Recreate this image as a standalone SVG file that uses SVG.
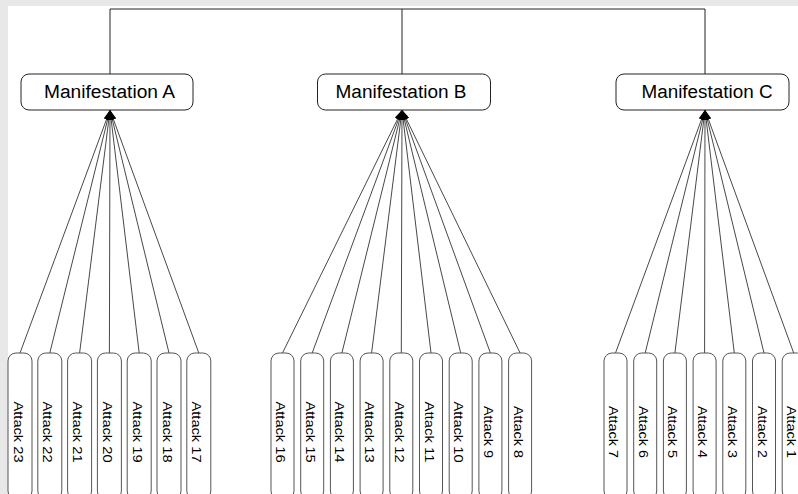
<svg xmlns="http://www.w3.org/2000/svg" width="798" height="494" viewBox="0 0 798 494">
<style>
.mbox{fill:#fff;stroke:#222;stroke-width:1}
.abox{fill:#fff;stroke:#555;stroke-width:1}
.mtxt{font-family:"Liberation Sans",Arial,sans-serif;font-size:18px;fill:#000;text-anchor:middle}
.atxt{font-family:"Liberation Sans",Arial,sans-serif;font-size:12px;fill:#000;text-anchor:middle}
.edge{stroke:#222;stroke-width:1;fill:none}
.fan{stroke:#333;stroke-width:0.9;fill:none;marker-end:url(#arr)}
</style>
<defs>
<marker id="arr" viewBox="0 0 10 6" refX="10" refY="3" markerWidth="10" markerHeight="6" markerUnits="userSpaceOnUse" orient="auto">
<path d="M0,0 L10,3 L0,6 Z" fill="#000"/>
</marker>
</defs>
<rect x="0" y="0" width="798" height="494" fill="#e8e8e8"/>
<rect x="8" y="6" width="790" height="488" fill="#fff"/>
<g id="connectors">
<path class="edge" d="M110,74 V9 H705 V74 M402,9 V74"/>
<line class="fan" x1="20" y1="353" x2="110" y2="110"/>
<line class="fan" x1="49.8" y1="353" x2="110" y2="110"/>
<line class="fan" x1="79.6" y1="353" x2="110" y2="110"/>
<line class="fan" x1="109.4" y1="353" x2="110" y2="110"/>
<line class="fan" x1="139.2" y1="353" x2="110" y2="110"/>
<line class="fan" x1="169" y1="353" x2="110" y2="110"/>
<line class="fan" x1="198.8" y1="353" x2="110" y2="110"/>
<line class="fan" x1="282.5" y1="353" x2="402" y2="110"/>
<line class="fan" x1="312.2" y1="353" x2="402" y2="110"/>
<line class="fan" x1="341.9" y1="353" x2="402" y2="110"/>
<line class="fan" x1="371.6" y1="353" x2="402" y2="110"/>
<line class="fan" x1="401.3" y1="353" x2="402" y2="110"/>
<line class="fan" x1="431" y1="353" x2="402" y2="110"/>
<line class="fan" x1="460.7" y1="353" x2="402" y2="110"/>
<line class="fan" x1="490.4" y1="353" x2="402" y2="110"/>
<line class="fan" x1="520.1" y1="353" x2="402" y2="110"/>
<line class="fan" x1="615.5" y1="353" x2="705" y2="110"/>
<line class="fan" x1="645.2" y1="353" x2="705" y2="110"/>
<line class="fan" x1="674.9" y1="353" x2="705" y2="110"/>
<line class="fan" x1="704.6" y1="353" x2="705" y2="110"/>
<line class="fan" x1="734.3" y1="353" x2="705" y2="110"/>
<line class="fan" x1="764" y1="353" x2="705" y2="110"/>
<line class="fan" x1="793.7" y1="353" x2="705" y2="110"/>
</g>
<g id="manA"><rect class="mbox" x="21" y="74" width="172" height="36" rx="8"/><text class="mtxt" x="109.5" y="98" textLength="131" lengthAdjust="spacingAndGlyphs">Manifestation A</text></g>
<g id="manB"><rect class="mbox" x="317.5" y="74" width="173" height="36" rx="8"/><text class="mtxt" x="401" y="98" textLength="131" lengthAdjust="spacingAndGlyphs">Manifestation B</text></g>
<g id="manC"><rect class="mbox" x="616" y="74" width="173" height="36" rx="8"/><text class="mtxt" x="707" y="98" textLength="131" lengthAdjust="spacingAndGlyphs">Manifestation C</text></g>

<g id="a23"><rect class="abox" x="8" y="353" width="24" height="146" rx="8"/><text class="atxt" transform="translate(13.5,432) rotate(90)" textLength="61" lengthAdjust="spacingAndGlyphs">Attack 23</text></g>
<g id="a22"><rect class="abox" x="37.8" y="353" width="24" height="146" rx="8"/><text class="atxt" transform="translate(43.3,432) rotate(90)" textLength="61" lengthAdjust="spacingAndGlyphs">Attack 22</text></g>
<g id="a21"><rect class="abox" x="67.6" y="353" width="24" height="146" rx="8"/><text class="atxt" transform="translate(73.1,432) rotate(90)" textLength="61" lengthAdjust="spacingAndGlyphs">Attack 21</text></g>
<g id="a20"><rect class="abox" x="97.4" y="353" width="24" height="146" rx="8"/><text class="atxt" transform="translate(102.9,432) rotate(90)" textLength="61" lengthAdjust="spacingAndGlyphs">Attack 20</text></g>
<g id="a19"><rect class="abox" x="127.2" y="353" width="24" height="146" rx="8"/><text class="atxt" transform="translate(132.7,432) rotate(90)" textLength="61" lengthAdjust="spacingAndGlyphs">Attack 19</text></g>
<g id="a18"><rect class="abox" x="157" y="353" width="24" height="146" rx="8"/><text class="atxt" transform="translate(162.5,432) rotate(90)" textLength="61" lengthAdjust="spacingAndGlyphs">Attack 18</text></g>
<g id="a17"><rect class="abox" x="186.8" y="353" width="24" height="146" rx="8"/><text class="atxt" transform="translate(192.3,432) rotate(90)" textLength="61" lengthAdjust="spacingAndGlyphs">Attack 17</text></g>

<g id="a16"><rect class="abox" x="271" y="353" width="23" height="146" rx="8"/><text class="atxt" transform="translate(276,432) rotate(90)" textLength="61" lengthAdjust="spacingAndGlyphs">Attack 16</text></g>
<g id="a15"><rect class="abox" x="300.7" y="353" width="23" height="146" rx="8"/><text class="atxt" transform="translate(305.7,432) rotate(90)" textLength="61" lengthAdjust="spacingAndGlyphs">Attack 15</text></g>
<g id="a14"><rect class="abox" x="330.4" y="353" width="23" height="146" rx="8"/><text class="atxt" transform="translate(335.4,432) rotate(90)" textLength="61" lengthAdjust="spacingAndGlyphs">Attack 14</text></g>
<g id="a13"><rect class="abox" x="360.1" y="353" width="23" height="146" rx="8"/><text class="atxt" transform="translate(365.1,432) rotate(90)" textLength="61" lengthAdjust="spacingAndGlyphs">Attack 13</text></g>
<g id="a12"><rect class="abox" x="389.8" y="353" width="23" height="146" rx="8"/><text class="atxt" transform="translate(394.8,432) rotate(90)" textLength="61" lengthAdjust="spacingAndGlyphs">Attack 12</text></g>
<g id="a11"><rect class="abox" x="419.5" y="353" width="23" height="146" rx="8"/><text class="atxt" transform="translate(424.5,432) rotate(90)" textLength="61" lengthAdjust="spacingAndGlyphs">Attack 11</text></g>
<g id="a10"><rect class="abox" x="449.2" y="353" width="23" height="146" rx="8"/><text class="atxt" transform="translate(454.2,432) rotate(90)" textLength="61" lengthAdjust="spacingAndGlyphs">Attack 10</text></g>
<g id="a9"><rect class="abox" x="478.9" y="353" width="23" height="146" rx="8"/><text class="atxt" transform="translate(483.9,432) rotate(90)" textLength="52" lengthAdjust="spacingAndGlyphs">Attack 9</text></g>
<g id="a8"><rect class="abox" x="508.6" y="353" width="23" height="146" rx="8"/><text class="atxt" transform="translate(513.6,432) rotate(90)" textLength="52" lengthAdjust="spacingAndGlyphs">Attack 8</text></g>

<g id="a7"><rect class="abox" x="604" y="353" width="23" height="146" rx="8"/><text class="atxt" transform="translate(609,432) rotate(90)" textLength="52" lengthAdjust="spacingAndGlyphs">Attack 7</text></g>
<g id="a6"><rect class="abox" x="633.7" y="353" width="23" height="146" rx="8"/><text class="atxt" transform="translate(638.7,432) rotate(90)" textLength="52" lengthAdjust="spacingAndGlyphs">Attack 6</text></g>
<g id="a5"><rect class="abox" x="663.4" y="353" width="23" height="146" rx="8"/><text class="atxt" transform="translate(668.4,432) rotate(90)" textLength="52" lengthAdjust="spacingAndGlyphs">Attack 5</text></g>
<g id="a4"><rect class="abox" x="693.1" y="353" width="23" height="146" rx="8"/><text class="atxt" transform="translate(698.1,432) rotate(90)" textLength="52" lengthAdjust="spacingAndGlyphs">Attack 4</text></g>
<g id="a3"><rect class="abox" x="722.8" y="353" width="23" height="146" rx="8"/><text class="atxt" transform="translate(727.8,432) rotate(90)" textLength="52" lengthAdjust="spacingAndGlyphs">Attack 3</text></g>
<g id="a2"><rect class="abox" x="752.5" y="353" width="23" height="146" rx="8"/><text class="atxt" transform="translate(757.5,432) rotate(90)" textLength="52" lengthAdjust="spacingAndGlyphs">Attack 2</text></g>
<g id="a1"><rect class="abox" x="782.2" y="353" width="23" height="146" rx="8"/><text class="atxt" transform="translate(787.2,432) rotate(90)" textLength="52" lengthAdjust="spacingAndGlyphs">Attack 1</text></g>
</svg>
